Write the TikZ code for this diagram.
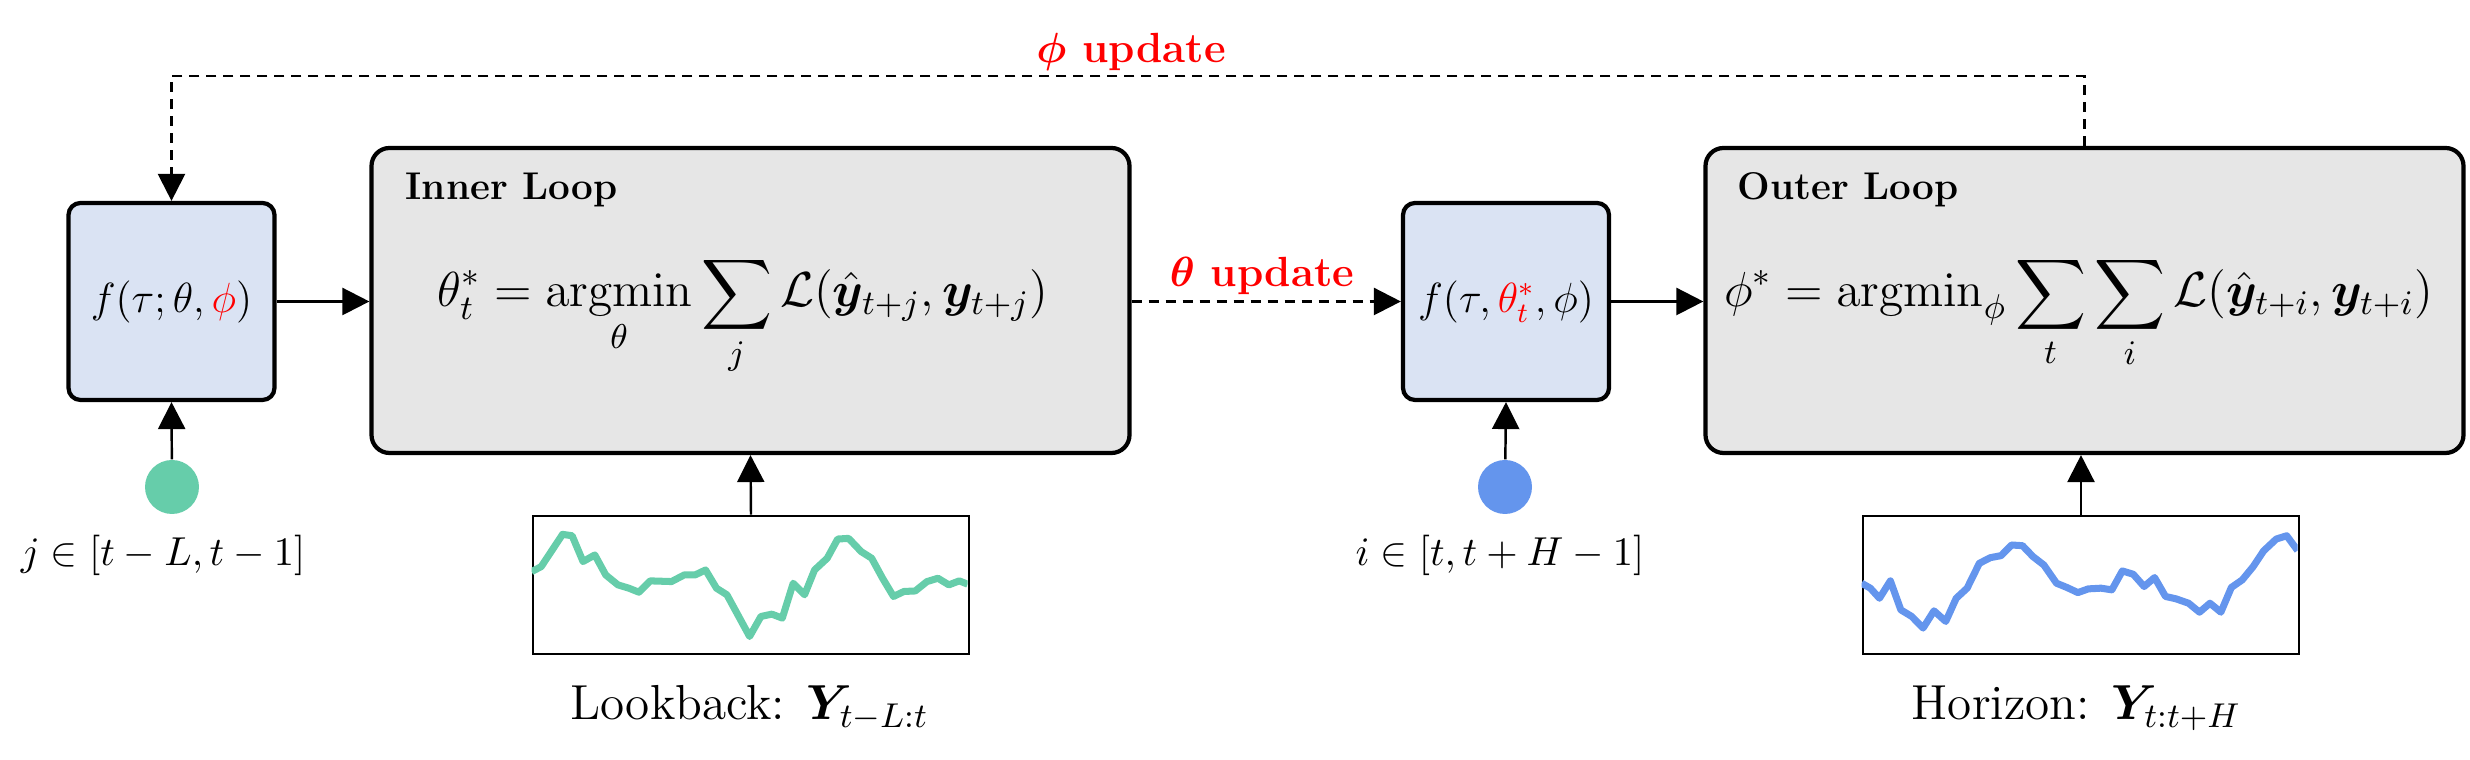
\RequirePackage{fix-cm}
\documentclass[tikz,border=0pt]{standalone}
\usepackage{amsmath,amssymb,bm}
\usetikzlibrary{arrows.meta}
\definecolor{boxblue}{HTML}{DAE3F3}
\definecolor{boxgray}{HTML}{E6E6E6}
\definecolor{mint}{HTML}{66CDAA}
\definecolor{cblue}{HTML}{6495ED}
\definecolor{upred}{HTML}{FF0000}
\DeclareMathOperator*{\argminop}{argmin}
\tikzset{fnbox/.style={draw,line width=1.2pt,fill=boxblue,rounded corners=.12cm,minimum width=2.06cm,minimum height=1.97cm,inner sep=0pt,font=\fontsize{12}{14}\selectfont},
loopbox/.style={draw,line width=1.2pt,fill=boxgray,rounded corners=.18cm,minimum width=7.58cm,minimum height=3.05cm,inner sep=0pt},
serbox/.style={draw,line width=.8pt,minimum width=4.36cm,minimum height=1.38cm,inner sep=0pt},
idxdot/.style={circle,minimum size=.54cm,inner sep=0pt},
arr/.style={-{Triangle[length=2.7mm,width=2.7mm]},line width=.7pt},
upd/.style={arr,dash pattern=on 1mm off .7mm},
trace/.style={line width=2pt,line join=round},
lab/.style={font=\fontsize{14}{16}\selectfont,anchor=base},
rng/.style={font=\fontsize{11.5}{13}\selectfont,anchor=base},
eq/.style={font=\fontsize{14}{16}\selectfont,anchor=base},
head/.style={font=\fontsize{11}{13}\selectfont\bfseries,anchor=base west,inner sep=0pt},
updlab/.style={font=\fontsize{12}{14}\selectfont\bfseries,text=upred,anchor=base}}

\begin{document}
\begin{tikzpicture}
\useasboundingbox (0,0) rectangle (24.7,7.6);
\node[fnbox] (fpre) at (1.715,4.585) {$f(\tau;\theta,{\color{upred}\phi})$};
\node[loopbox] (inner) at (7.505,4.595) {};
\node[fnbox] (fpost) at (15.06,4.585) {$f(\tau,{\color{upred}\theta_t^{*}},\phi)$};
\node[loopbox] (outer) at (20.845,4.595) {};
\node[head] (innerhd) at (4.05,5.60) {Inner Loop};
\node[head] (outerhd) at (17.37,5.60) {Outer Loop};
\node[eq] (innereq) at (7.43,4.53) {$\displaystyle\theta_t^{*}=\argminop_{\theta}\sum_{j}\mathcal{L}(\hat{\bm y}_{t+j},\bm y_{t+j})$};
\node[eq] (outereq) at (20.785,4.53) {$\displaystyle\phi^{*}=\operatorname{argmin}_{\phi}\sum_{t}\sum_{i}\mathcal{L}(\hat{\bm y}_{t+i},\bm y_{t+i})$};
\node[idxdot,fill=mint] (dotj) at (1.72,2.73) {};
\node[idxdot,fill=cblue] (doti) at (15.05,2.73) {};
\node[rng] (jrange) at (1.63,1.94) {$j\in[t-L,t-1]$};
\node[rng] (irange) at (15.00,1.94) {$i\in[t,t+H-1]$};
\node[serbox] (lookback) at (7.51,1.75) {};
\node[serbox] (horizon) at (20.81,1.75) {};
\node[lab] (lookbacklab) at (7.495,.40) {Lookback: $\bm{Y}_{t-L:t}$};
\node[lab] (horizonlab) at (20.765,.40) {Horizon: $\bm{Y}_{t:t+H}$};
\begin{scope}[shift={(lookback.south west)},x=4.36cm,y=1.38cm]
\clip (0,0) rectangle (1,1);
\draw[trace,mint] plot coordinates {(0,.607) (.022,.643) (.071,.877) (.093,.867) (.118,.680) (.145,.728) (.170,.583) (.198,.511) (.223,.487) (.246,.458) (.272,.540) (.321,.535) (.350,.583) (.375,.583) (.399,.619) (.424,.487) (.448,.439) (.473,.294) (.500,.137) (.526,.282) (.551,.299) (.575,.270) (.600,.523) (.626,.439) (.649,.619) (.678,.704) (.702,.843) (.727,.848) (.756,.752) (.780,.704) (.805,.559) (.830,.427) (.854,.463) (.880,.467) (.907,.535) (.932,.559) (.957,.511) (.981,.540) (1,.516)};
\end{scope}
\begin{scope}[shift={(horizon.south west)},x=4.36cm,y=1.38cm]
\clip (0,0) rectangle (1,1);
\draw[trace,cblue] plot coordinates {(0,.523) (.020,.487) (.041,.414) (.066,.540) (.090,.330) (.115,.282) (.141,.198) (.166,.323) (.193,.246) (.217,.414) (.242,.487) (.270,.667) (.295,.708) (.320,.723) (.344,.800) (.369,.795) (.393,.716) (.418,.655) (.447,.523) (.471,.492) (.496,.455) (.520,.482) (.549,.487) (.574,.475) (.598,.612) (.623,.588) (.648,.499) (.672,.564) (.697,.427) (.721,.410) (.750,.378) (.775,.313) (.799,.378) (.824,.313) (.848,.492) (.873,.547) (.898,.643) (.922,.757) (.951,.843) (.975,.867) (1,.76)};
\end{scope}
\draw[arr] (fpre.east) -- (fpre.east -| inner.west);
\draw[arr] (fpost.east) -- (fpost.east -| outer.west);
\draw[arr] (dotj) -- (fpre.south);
\draw[arr] (doti) -- (fpost.south);
\draw[arr] (lookback.north) -- (inner.south);
\draw[arr] (horizon.north) -- (horizon.north |- outer.south);
\draw[upd] (inner.east |- fpost.west) -- (fpost.west);
\node[updlab] (thetaupd) at (12.62,4.73) {$\bm{\theta}$ update};
\coordinate (ptop) at (1.715,6.84);
\draw[upd] (outer.north) |- (ptop) -- (fpre.north);
\node[updlab] (phiupd) at (11.31,6.97) {$\bm{\phi}$ update};
\end{tikzpicture}
\end{document}
